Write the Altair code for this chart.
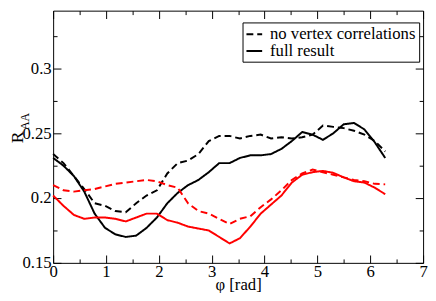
import altair as alt
import pandas as pd

# phi grid (rad)
phi = [0.0, 0.196, 0.393, 0.589, 0.785, 0.982, 1.178, 1.374, 1.571, 1.767, 1.963,
       2.160, 2.356, 2.553, 2.749, 2.945, 3.142, 3.338, 3.534, 3.731, 3.927, 4.123,
       4.320, 4.516, 4.712, 4.909, 5.105, 5.301, 5.498, 5.694, 5.890, 6.087, 6.283]

black_full = [0.231, 0.225, 0.217, 0.205, 0.188, 0.177, 0.172, 0.170, 0.171, 0.177, 0.185,
              0.196, 0.204, 0.210, 0.214, 0.220, 0.227, 0.227, 0.231, 0.233, 0.233, 0.234,
              0.238, 0.244, 0.251, 0.249, 0.245, 0.250, 0.257, 0.258, 0.253, 0.243, 0.231]
black_novtx = [0.234, 0.227, 0.217, 0.207, 0.196, 0.194, 0.190, 0.189, 0.196, 0.202, 0.206,
               0.219, 0.227, 0.229, 0.234, 0.244, 0.248, 0.248, 0.246, 0.248, 0.249, 0.246,
               0.247, 0.246, 0.247, 0.249, 0.256, 0.255, 0.254, 0.252, 0.249, 0.244, 0.236]
red_novtx = [0.210, 0.206, 0.205, 0.206, 0.207, 0.209, 0.211, 0.212, 0.213, 0.214, 0.213,
             0.210, 0.208, 0.196, 0.190, 0.188, 0.184, 0.180, 0.184, 0.186, 0.193, 0.199,
             0.206, 0.214, 0.219, 0.222, 0.220, 0.218, 0.216, 0.214, 0.213, 0.211, 0.2106]
red_full = [0.202, 0.194, 0.187, 0.184, 0.185, 0.185, 0.184, 0.182, 0.185, 0.188, 0.188,
            0.183, 0.181, 0.178, 0.1765, 0.175, 0.170, 0.165, 0.169, 0.178, 0.188, 0.195,
            0.202, 0.212, 0.218, 0.220, 0.221, 0.2195, 0.216, 0.213, 0.212, 0.208, 0.203]

legend_labels = ["no vertex correlations", "full result"]
x_major = [0, 1, 2, 3, 4, 5, 6, 7]
x_minor = [0.5, 1.5, 2.5, 3.5, 4.5, 5.5, 6.5]
y_major = [0.15, 0.2, 0.25, 0.3]
y_minor = [0.175, 0.225, 0.275, 0.325]

rows = []
for name, col, kind, vals in [
    ("bn", "black", legend_labels[0], black_novtx),
    ("bf", "black", legend_labels[1], black_full),
    ("rn", "red", legend_labels[0], red_novtx),
    ("rf", "red", legend_labels[1], red_full),
]:
    for p, v in zip(phi, vals):
        rows.append({"phi": p, "raa": v, "series": name, "col": col, "kind": kind})
df = pd.DataFrame(rows)

FONT = "Liberation Serif"
xscale = alt.Scale(domain=[0, 7], nice=False, zero=False)
yscale = alt.Scale(domain=[0.15, 0.3447], nice=False, zero=False)

common_axis = dict(domain=False, grid=False, tickColor="black", tickWidth=1,
                   labelFlush=False, labelOverlap=False)

def ax(orient, values, size, labels, fmt=None, title=None, pad=2):
    kw = dict(common_axis)
    kw.update(orient=orient, values=values, tickSize=size, offset=-size, labels=labels)
    if labels:
        kw.update(labelPadding=pad, labelFont=FONT, labelFontSize=17, labelColor="black")
        if fmt:
            kw["format"] = fmt
    if title:
        kw.update(title=title, titlePadding=-3, titleFont=FONT, titleFontSize=17,
                  titleFontWeight="normal", titleColor="black")
    else:
        kw["title"] = None
    return alt.Axis(**kw)

lines = alt.Chart(df).mark_line(strokeWidth=2).encode(
    x=alt.X("phi:Q", scale=xscale, axis=ax("bottom", x_major, 8, True, "d", "φ [rad]", pad=1)),
    y=alt.Y("raa:Q", scale=yscale, axis=ax("left", y_major, 8, True, ".2~f", pad=2)),
    color=alt.Color("col:N", scale=alt.Scale(domain=["black", "red"], range=["#000000", "#ff0000"]),
                    legend=None),
    strokeDash=alt.StrokeDash(
        "kind:N",
        scale=alt.Scale(domain=legend_labels, range=[[7, 4], [1, 0]]),
        legend=alt.Legend(title=None, orient="none", legendX=193, legendY=12,
                          labelFont=FONT, labelFontSize=17, labelColor="black",
                          labelOffset=7, labelLimit=300, symbolType="stroke", symbolSize=256,
                          symbolStrokeWidth=2, symbolStrokeColor="black",
                          padding=3, rowPadding=-7, strokeColor="black",
                          fillColor="white", cornerRadius=0),
    ),
    detail="series:N",
)

def ghost(xaxis, yaxis):
    return alt.Chart(df).mark_line(opacity=0).encode(
        x=alt.X("phi:Q", scale=xscale, axis=xaxis),
        y=alt.Y("raa:Q", scale=yscale, axis=yaxis),
        detail="series:N",
    )

g_minor = ghost(ax("bottom", x_minor, 4, False), ax("left", y_minor, 4, False))
g_top = ghost(ax("top", x_major, 8, False), ax("right", y_major, 8, False))
g_top_minor = ghost(ax("top", x_minor, 4, False), ax("right", y_minor, 4, False))

one = pd.DataFrame({"k": [0]})
r_label = alt.Chart(one).mark_text(text="R", angle=270, font=FONT, fontSize=18,
                                   color="black", align="center", baseline="middle").encode(
    x=alt.value(-36), y=alt.value(129))
aa_label = alt.Chart(one).mark_text(text="AA", angle=270, font=FONT, fontSize=12,
                                    color="black", align="center", baseline="middle").encode(
    x=alt.value(-29), y=alt.value(113))

chart = alt.layer(lines, g_minor, g_top, g_top_minor, r_label, aa_label).resolve_scale(
    x="shared", y="shared"
).resolve_axis(
    x="independent", y="independent"
).properties(
    width=377, height=257,
    autosize=alt.AutoSizeParams(type="none"),
    padding={"left": 46, "top": 0, "right": 5, "bottom": 28},
    background="white",
).configure_view(stroke="black", strokeWidth=1)

chart.save("out.html", embed_options={"renderer": "svg", "actions": False})
